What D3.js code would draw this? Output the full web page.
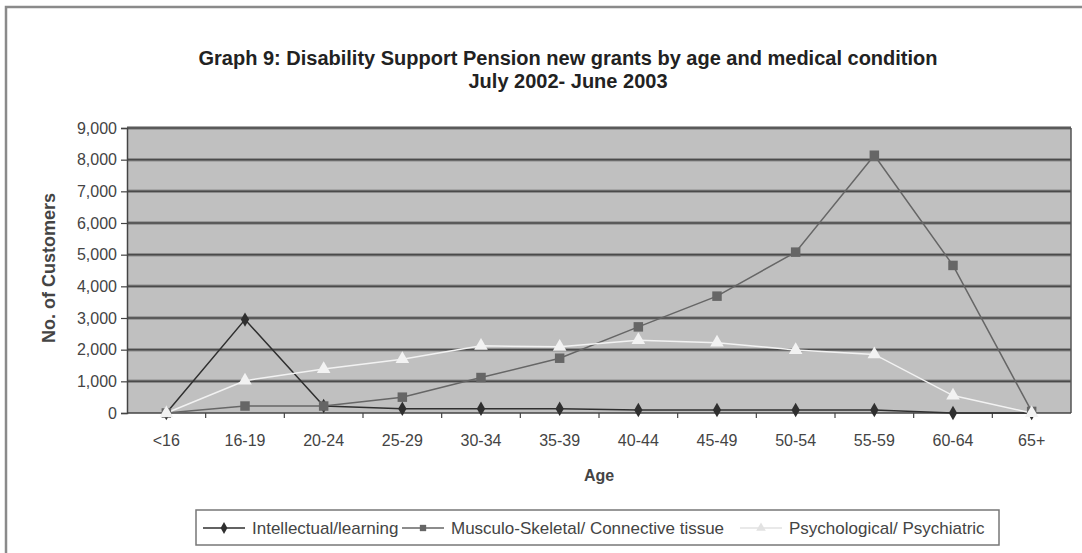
<!DOCTYPE html>
<html>
<head>
<meta charset="utf-8">
<script src="https://cdn.jsdelivr.net/npm/d3@7"></script>
<style>
  body { margin: 0; background: #fff; }
  svg { display: block; font-family: "Liberation Sans", Arial, sans-serif; }
</style>
</head>
<body>
<svg id="chart" width="1082" height="553"></svg>
<script>
// age groups on the x axis
const ages = ["<16", "16-19", "20-24", "25-29", "30-34", "35-39", "40-44", "45-49", "50-54", "55-59", "60-64", "65+"];

// new grants per medical condition
const intellectual = [0, 2950, 220, 135, 135, 135, 95, 95, 95, 95, 0, 0];
const musculo = [0, 220, 220, 500, 1120, 1730, 2720, 3690, 5080, 8140, 4660, 50];
const psych = [0, 1020, 1390, 1700, 2120, 2090, 2300, 2220, 1990, 1850, 550, 0];

const yTicks = [0, 1000, 2000, 3000, 4000, 5000, 6000, 7000, 8000, 9000];

const seriesNames = ["Intellectual/learning", "Musculo-Skeletal/ Connective tissue", "Psychological/ Psychiatric"];

const series = [
  { name: seriesNames[0], values: intellectual, color: "#2f2f2f", marker: d3.symbolDiamond, size: 60 },
  { name: seriesNames[1], values: musculo, color: "#666666", marker: d3.symbolSquare, size: 90 },
  { name: seriesNames[2], values: psych, color: "#f2f2f2", marker: d3.symbolTriangle, size: 80 }
];

const svg = d3.select("#chart");

// outer frame (right and bottom edges fall outside the picture)
svg.append("rect")
  .attr("x", 6).attr("y", 7).attr("width", 1090).attr("height", 560)
  .attr("fill", "#fff").attr("stroke", "#8a8a8a").attr("stroke-width", 2.5);

// title
const title = svg.append("text")
  .attr("text-anchor", "middle")
  .attr("font-weight", "bold")
  .attr("font-size", 20)
  .attr("fill", "#222");
title.append("tspan").attr("x", 568).attr("y", 65)
  .text("Graph 9: Disability Support Pension new grants by age and medical condition");
title.append("tspan").attr("x", 568).attr("y", 88)
  .text("July 2002- June 2003");

const plot = { left: 127, right: 1071, top: 128, bottom: 413 };

const x = d3.scaleBand().domain(ages).range([plot.left, plot.right]);
const y = d3.scaleLinear().domain([0, 9000]).range([plot.bottom, plot.top]);

// plot background
svg.append("rect")
  .attr("x", plot.left).attr("y", plot.top)
  .attr("width", plot.right - plot.left).attr("height", plot.bottom - plot.top)
  .attr("fill", "#c0c0c0");

// gridlines
const grid = svg.append("g");
grid.selectAll("line.halo")
  .data(yTicks.filter(d => d > 0))
  .join("line")
  .attr("class", "halo")
  .attr("x1", plot.left).attr("x2", plot.right)
  .attr("y1", d => y(d)).attr("y2", d => y(d))
  .attr("stroke", "#8c8c8c").attr("stroke-width", 3.5);
grid.selectAll("line.main")
  .data(yTicks.filter(d => d > 0))
  .join("line")
  .attr("class", "main")
  .attr("x1", plot.left).attr("x2", plot.right)
  .attr("y1", d => y(d)).attr("y2", d => y(d))
  .attr("stroke", "#4a4a4a").attr("stroke-width", 1.5);

// plot border (right side)
svg.append("line")
  .attr("x1", plot.right).attr("x2", plot.right)
  .attr("y1", plot.top).attr("y2", plot.bottom)
  .attr("stroke", "#555").attr("stroke-width", 1.5);

// y axis
const yAxis = svg.append("g")
  .attr("transform", `translate(${plot.left},0)`)
  .call(d3.axisLeft(y).tickValues(yTicks).tickSize(6).tickPadding(4)
    .tickFormat(d3.format(",")));
yAxis.select(".domain").attr("stroke", "#444").attr("stroke-width", 1.5);
yAxis.selectAll(".tick line").attr("stroke", "#444").attr("stroke-width", 1.2);
yAxis.selectAll(".tick text")
  .attr("font-size", 16).attr("fill", "#444")
  .attr("font-family", "Liberation Sans, Arial, sans-serif");

// x axis, ticks at band boundaries
const xAxisG = svg.append("g").attr("transform", `translate(0,${plot.bottom})`);
xAxisG.append("line")
  .attr("x1", plot.left).attr("x2", plot.right)
  .attr("stroke", "#444").attr("stroke-width", 1.5);
xAxisG.selectAll("line.tick")
  .data(ages.slice(1))
  .join("line")
  .attr("class", "tick")
  .attr("x1", d => x(d)).attr("x2", d => x(d))
  .attr("y1", 0).attr("y2", 5)
  .attr("stroke", "#444").attr("stroke-width", 1.2);
xAxisG.selectAll("text")
  .data(ages)
  .join("text")
  .attr("x", d => x(d) + x.bandwidth() / 2)
  .attr("y", 33)
  .attr("text-anchor", "middle")
  .attr("font-size", 16).attr("fill", "#444")
  .text(d => d);

// axis titles
svg.append("text")
  .attr("x", (plot.left + plot.right) / 2).attr("y", 481)
  .attr("text-anchor", "middle")
  .attr("font-size", 16).attr("font-weight", "bold").attr("fill", "#444")
  .text("Age");
svg.append("text")
  .attr("transform", `translate(55,268) rotate(-90)`)
  .attr("text-anchor", "middle")
  .attr("font-size", 18).attr("font-weight", "bold").attr("fill", "#444")
  .text("No. of Customers");

const line = d3.line()
  .x((d, i) => x(ages[i]) + x.bandwidth() / 2)
  .y(d => y(d));

const lines = svg.append("g");
series.forEach(s => {
  lines.append("path")
    .datum(s.values)
    .attr("fill", "none")
    .attr("stroke", s.color)
    .attr("stroke-width", 1.5)
    .attr("d", line);
});
series.forEach(s => {
  lines.append("g").selectAll("path")
    .data(s.values)
    .join("path")
    .attr("transform", (d, i) => `translate(${x(ages[i]) + x.bandwidth() / 2},${y(d)})`)
    .attr("d", d3.symbol().type(s.marker).size(s.size))
    .attr("fill", s.color);
});

// legend
const legend = svg.append("g");
legend.append("rect")
  .attr("x", 196).attr("y", 510).attr("width", 803).attr("height", 35)
  .attr("fill", "#fff").attr("stroke", "#777").attr("stroke-width", 1.5);

const legendX = [203, 402, 740];
series.forEach((s, i) => {
  const c = s.color === "#f2f2f2" ? "#e2e2e2" : s.color;
  const g = legend.append("g").attr("transform", `translate(${legendX[i]},528)`);
  g.append("line")
    .attr("x1", 0).attr("x2", 42)
    .attr("stroke", c)
    .attr("stroke-width", 1.5);
  g.append("path")
    .attr("transform", "translate(21,0)")
    .attr("d", d3.symbol().type(s.marker).size(40))
    .attr("fill", c);
  g.append("text")
    .attr("x", 49).attr("y", 6)
    .attr("font-size", 17).attr("fill", "#444")
    .text(s.name);
});
</script>
</body>
</html>
